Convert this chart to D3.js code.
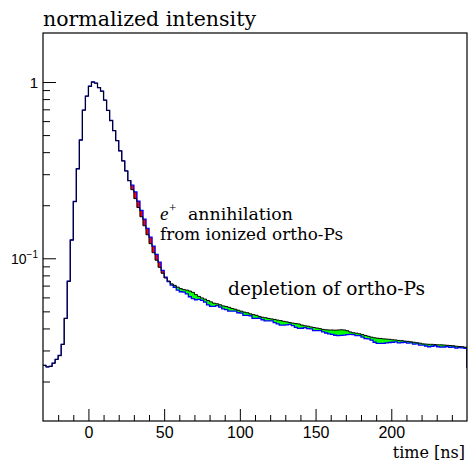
<!DOCTYPE html>
<html><head><meta charset="utf-8">
<script src="https://cdn.jsdelivr.net/npm/d3@7"></script>
<style>
html,body{margin:0;padding:0;background:#fff;}
svg{display:block;}
.serif{font-family:"DejaVu Serif",serif;}
.serif2{font-family:"Liberation Serif",serif;}
.sans{font-family:"Liberation Sans",Arial,Helvetica,sans-serif;}
</style></head>
<body>
<svg id="c" width="469" height="463"></svg>
<script>
// lower bin edges (ns), bin width 2 ns; last bin is the overflow beyond the axis
const binEdges = [-30,-28,-26,-24,-22,-20,-18,-16,-14,-12,-10,-8,-6,-4,-2,0,2,4,6,8,10,12,14,16,18,20,22,24,26,28,30,32,34,36,38,40,42,44,46,48,50,52,54,56,58,60,62,64,66,68,70,72,74,76,78,80,82,84,86,88,90,92,94,96,98,100,102,104,106,108,110,112,114,116,118,120,122,124,126,128,130,132,134,136,138,140,142,144,146,148,150,152,154,156,158,160,162,164,166,168,170,172,174,176,178,180,182,184,186,188,190,192,194,196,198,200,202,204,206,208,210,212,214,216,218,220,222,224,226,228,230,232,234,236,238,240,242,244,246,248,250];
const binWidth = 2;
// reference spectrum (black)
const blackSeries = [0.0247,0.0242,0.0244,0.0254,0.0267,0.0281,0.0325,0.0456,0.0741,0.127,0.210,0.322,0.469,0.693,0.832,0.946,1.000,0.985,0.929,0.887,0.789,0.690,0.605,0.530,0.465,0.407,0.357,0.313,0.276,0.245,0.218,0.194,0.172,0.153,0.136,0.121,0.1076,0.0975,0.0889,0.0822,0.0773,0.0743,0.0716,0.0702,0.0686,0.0673,0.0664,0.0660,0.0652,0.0641,0.0622,0.0608,0.0596,0.0587,0.0576,0.0566,0.0556,0.0552,0.0545,0.0537,0.0533,0.0527,0.0519,0.0514,0.0507,0.0501,0.0495,0.0491,0.0484,0.0479,0.0475,0.0468,0.0463,0.0460,0.0456,0.0453,0.0450,0.0446,0.0443,0.0439,0.0436,0.0432,0.0429,0.0426,0.0424,0.0418,0.0414,0.0412,0.0408,0.0405,0.0402,0.0399,0.0395,0.0393,0.0392,0.0392,0.0391,0.0392,0.0393,0.0392,0.0388,0.0382,0.0378,0.0376,0.0373,0.0369,0.0365,0.0361,0.0357,0.0354,0.0352,0.0351,0.0349,0.0348,0.0347,0.0345,0.0344,0.0342,0.0341,0.0339,0.0338,0.0336,0.0334,0.0332,0.0330,0.0327,0.0326,0.0325,0.0325,0.0324,0.0323,0.0323,0.0322,0.0321,0.0320,0.0319,0.0317,0.0316,0.0315,0.0313,0.0240];
// comparison spectrum (blue)
const blueSeries = [0.0247,0.0242,0.0244,0.0254,0.0267,0.0281,0.0325,0.0456,0.0741,0.127,0.210,0.322,0.469,0.693,0.832,0.946,1.000,0.985,0.929,0.887,0.789,0.690,0.605,0.530,0.465,0.407,0.357,0.313,0.276,0.260,0.238,0.211,0.187,0.167,0.148,0.132,0.1173,0.1053,0.0951,0.0855,0.0781,0.0737,0.0705,0.0685,0.0659,0.0646,0.0643,0.0628,0.0605,0.0590,0.0582,0.0584,0.0577,0.0564,0.0544,0.0534,0.0534,0.0539,0.0528,0.0516,0.0512,0.0502,0.0502,0.0502,0.0491,0.0489,0.0475,0.0475,0.0472,0.0456,0.0456,0.0457,0.0448,0.0442,0.0441,0.0442,0.0432,0.0425,0.0418,0.0418,0.0419,0.0422,0.0415,0.0406,0.0400,0.0401,0.0404,0.0399,0.0398,0.0389,0.0389,0.0389,0.0382,0.0377,0.0373,0.0370,0.0366,0.0364,0.0365,0.0367,0.0369,0.0370,0.0369,0.0364,0.0364,0.0357,0.0350,0.0349,0.0343,0.0334,0.0329,0.0329,0.0329,0.0331,0.0333,0.0334,0.0336,0.0331,0.0333,0.0334,0.0330,0.0331,0.0326,0.0327,0.0322,0.0322,0.0318,0.0315,0.0317,0.0319,0.0315,0.0313,0.0314,0.0316,0.0312,0.0314,0.0309,0.0311,0.0310,0.0308,0.0240];
const xMajorTicks = [0,50,100,150,200];
const xMinorTicks = [-20,-10,10,20,30,40,60,70,80,90,110,120,130,140,160,170,180,190,210,220,230,240];
const yMajorTicks = [0.1,1];
const yMinorTicks = [0.02,0.03,0.04,0.05,0.06,0.07,0.08,0.09,0.2,0.3,0.4,0.5,0.6,0.7,0.8,0.9];
const xDomain = [-30,250];
const yDomain = [0.01194,1.897];

const svg = d3.select('#c');
const L = 43, R = 467, T = 33, B = 421;
const x = d3.scaleLinear().domain(xDomain).range([L,R]);
const y = d3.scaleLog().domain(yDomain).range([B,T]);

svg.append('defs').append('clipPath').attr('id','clip')
  .append('rect').attr('x',L).attr('y',T).attr('width',R-L).attr('height',B-T);

const bins = binEdges.map((e,i)=>({x0:e,x1:e+binWidth,k:blackSeries[i],b:blueSeries[i]}));
const plot = svg.append('g').attr('clip-path','url(#clip)');

// fill between the two spectra
plot.selectAll('rect.fill').data(bins.filter(d=>d.k!==d.b)).join('rect')
  .attr('x',d=>x(d.x0)).attr('width',d=>x(d.x1)-x(d.x0)+0.3)
  .attr('y',d=>y(Math.max(d.k,d.b))).attr('height',d=>Math.abs(y(d.k)-y(d.b)))
  .attr('fill',d=>d.b>d.k?'#ff0000':'#00ff00');

function stepPts(key){
  const pts = bins.map(d=>[d.x0,d[key]]);
  const last = bins[bins.length-1];
  pts.push([last.x1,last[key]]);
  return pts;
}
const line = d3.line().x(d=>x(d[0])).y(d=>y(d[1])).curve(d3.curveStepAfter);
plot.append('path').attr('d',line(stepPts('b'))).attr('fill','none').attr('stroke','#0000ff').attr('stroke-width',1.3);
plot.append('path').attr('d',line(stepPts('k'))).attr('fill','none').attr('stroke','#000').attr('stroke-width',1);

// axes
const gx = svg.append('g').attr('transform',`translate(0,${B})`)
  .call(d3.axisBottom(x).tickValues(xMajorTicks).tickSize(-12).tickPadding(6).tickFormat(d3.format('d')));
const gxm = svg.append('g').attr('transform',`translate(0,${B})`)
  .call(d3.axisBottom(x).tickValues(xMinorTicks).tickSize(-6).tickFormat(''));
const gy = svg.append('g').attr('transform',`translate(${L},0)`)
  .call(d3.axisLeft(y).tickValues(yMajorTicks).tickSize(-13).tickPadding(5).tickFormat(()=>''));
const gym = svg.append('g').attr('transform',`translate(${L},0)`)
  .call(d3.axisLeft(y).tickValues(yMinorTicks).tickSize(-7).tickFormat(''));
[gx,gxm,gy,gym].forEach(g=>{
  g.attr('font-family',null);
  g.select('.domain').remove();
  g.selectAll('.tick line').attr('stroke','#000').attr('stroke-width',1);
});
gx.selectAll('.tick text').attr('class','sans').attr('font-size',16).attr('fill','#000');
gy.selectAll('.tick text').each(function(d){
  const t = d3.select(this).attr('class','sans').attr('fill','#000').attr('dy','0.35em');
  if (d===1){ t.attr('font-size',15).text('1'); }
  else {
    t.attr('font-size',14);
    t.append('tspan').text('10');
    t.append('tspan').attr('font-size',10).attr('dy','-0.6em').text('\u22121');
  }
});

// frame
svg.append('rect').attr('x',L).attr('y',T).attr('width',R-L).attr('height',B-T)
  .attr('fill','none').attr('stroke','#000').attr('stroke-width',1.2);

// titles
svg.append('text').attr('class','serif').attr('font-family','DejaVu Serif').attr('x',43).attr('y',26).attr('font-size',20)
  .attr('textLength',213).attr('lengthAdjust','spacingAndGlyphs').text('normalized intensity');
svg.append('text').attr('class','serif').attr('font-family','DejaVu Serif').attr('x',465).attr('y',458).attr('text-anchor','end')
  .attr('font-size',16).text('time [ns]');

// annotations
const a1 = svg.append('text').attr('class','serif2').attr('x',160).attr('y',220).attr('font-size',19);
a1.append('tspan').attr('font-style','italic').text('e');
a1.append('tspan').attr('x',169).attr('y',212).attr('font-size',13).text('+');
a1.append('tspan').attr('x',188).attr('y',220).attr('font-size',17).attr('textLength',105).attr('lengthAdjust','spacingAndGlyphs').attr('class','serif').text('annihilation');
svg.append('text').attr('class','serif').attr('x',160).attr('y',240).attr('font-size',17)
  .attr('textLength',183).attr('lengthAdjust','spacingAndGlyphs').text('from ionized ortho-Ps');
svg.append('text').attr('class','serif').attr('x',228).attr('y',295).attr('font-size',19)
  .attr('textLength',197).attr('lengthAdjust','spacingAndGlyphs').text('depletion of ortho-Ps');
</script>
</body></html>
